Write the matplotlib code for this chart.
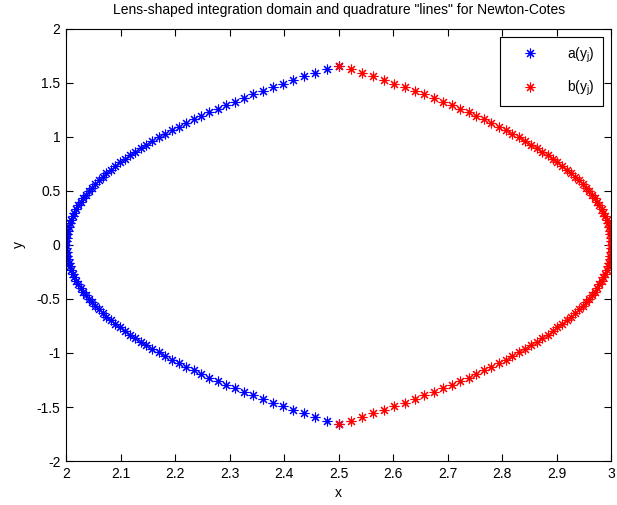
import matplotlib
matplotlib.use("Agg")
import matplotlib.pyplot as plt

plt.rcParams['font.family'] = ['Liberation Sans', 'DejaVu Sans']

# quadrature nodes y_j and the two boundary curves a(y_j), b(y_j)
y_vals = [-1.658, -1.625, -1.592, -1.559, -1.526, -1.492, -1.459, -1.426, -1.393, -1.360,
          -1.327, -1.294, -1.260, -1.227, -1.194, -1.161, -1.128, -1.095, -1.061, -1.028,
          -0.995, -0.962, -0.929, -0.896, -0.862, -0.829, -0.796, -0.763, -0.730, -0.697,
          -0.663, -0.630, -0.597, -0.564, -0.531, -0.498, -0.464, -0.431, -0.398, -0.365,
          -0.332, -0.299, -0.265, -0.232, -0.199, -0.166, -0.133, -0.100, -0.066, -0.033,
          0.000,
          0.033, 0.066, 0.100, 0.133, 0.166, 0.199, 0.232, 0.265, 0.299, 0.332,
          0.365, 0.398, 0.431, 0.464, 0.498, 0.531, 0.564, 0.597, 0.630, 0.663,
          0.697, 0.730, 0.763, 0.796, 0.829, 0.862, 0.896, 0.929, 0.962, 0.995,
          1.028, 1.061, 1.095, 1.128, 1.161, 1.194, 1.227, 1.260, 1.294, 1.327,
          1.360, 1.393, 1.426, 1.459, 1.492, 1.526, 1.559, 1.592, 1.625, 1.658]

a_vals = [2.500, 2.478, 2.457, 2.437, 2.417, 2.398, 2.379, 2.361, 2.343, 2.326,
          2.309, 2.293, 2.278, 2.262, 2.248, 2.234, 2.220, 2.207, 2.194, 2.182,
          2.170, 2.158, 2.147, 2.137, 2.127, 2.117, 2.108, 2.099, 2.090, 2.082,
          2.074, 2.067, 2.060, 2.053, 2.047, 2.042, 2.036, 2.031, 2.027, 2.022,
          2.018, 2.015, 2.012, 2.009, 2.007, 2.005, 2.003, 2.002, 2.001, 2.000,
          2.000,
          2.000, 2.001, 2.002, 2.003, 2.005, 2.007, 2.009, 2.012, 2.015, 2.018,
          2.022, 2.027, 2.031, 2.036, 2.042, 2.047, 2.053, 2.060, 2.067, 2.074,
          2.082, 2.090, 2.099, 2.108, 2.117, 2.127, 2.137, 2.147, 2.158, 2.170,
          2.182, 2.194, 2.207, 2.220, 2.234, 2.248, 2.262, 2.278, 2.293, 2.309,
          2.326, 2.343, 2.361, 2.379, 2.398, 2.417, 2.437, 2.457, 2.478, 2.500]

b_vals = [2.500, 2.522, 2.543, 2.563, 2.583, 2.602, 2.621, 2.639, 2.657, 2.674,
          2.691, 2.707, 2.722, 2.738, 2.752, 2.766, 2.780, 2.793, 2.806, 2.818,
          2.830, 2.842, 2.853, 2.863, 2.873, 2.883, 2.892, 2.901, 2.910, 2.918,
          2.926, 2.933, 2.940, 2.947, 2.953, 2.958, 2.964, 2.969, 2.973, 2.978,
          2.982, 2.985, 2.988, 2.991, 2.993, 2.995, 2.997, 2.998, 2.999, 3.000,
          3.000,
          3.000, 2.999, 2.998, 2.997, 2.995, 2.993, 2.991, 2.988, 2.985, 2.982,
          2.978, 2.973, 2.969, 2.964, 2.958, 2.953, 2.947, 2.940, 2.933, 2.926,
          2.918, 2.910, 2.901, 2.892, 2.883, 2.873, 2.863, 2.853, 2.842, 2.830,
          2.818, 2.806, 2.793, 2.780, 2.766, 2.752, 2.738, 2.722, 2.707, 2.691,
          2.674, 2.657, 2.639, 2.621, 2.602, 2.583, 2.563, 2.543, 2.522, 2.500]

x_ticks = [2, 2.1, 2.2, 2.3, 2.4, 2.5, 2.6, 2.7, 2.8, 2.9, 3]
y_ticks = [-2, -1.5, -1, -0.5, 0, 0.5, 1, 1.5, 2]

fig = plt.figure(figsize=(6.17, 5.05), dpi=100)
ax = fig.add_axes([0.107, 0.087, 0.884, 0.856])

star = (8, 2, 0)
ax.plot(a_vals, y_vals, linestyle='none', marker=star, markersize=7, markeredgewidth=0.8,
        color='#0000ff', label='a(y$_\\mathregular{j}$)')
ax.plot(b_vals, y_vals, linestyle='none', marker=star, markersize=7, markeredgewidth=0.8,
        color='#ff0000', label='b(y$_\\mathregular{j}$)')

ax.set_xlim(2, 3)
ax.set_ylim(-2, 2)
ax.set_xticks(x_ticks)
ax.set_xticklabels(['2', '2.1', '2.2', '2.3', '2.4', '2.5', '2.6', '2.7', '2.8', '2.9', '3'])
ax.set_yticks(y_ticks)
ax.set_yticklabels(['-2', '-1.5', '-1', '-0.5', '0', '0.5', '1', '1.5', '2'])
ax.tick_params(direction='in', top=True, right=True, length=5, width=0.8, labelsize=10, pad=4)
for sp in ax.spines.values():
    sp.set_linewidth(0.8)

ax.set_xlabel('x', fontsize=10, labelpad=4)
ax.set_ylabel('y', fontsize=10, labelpad=8)
ax.set_title('Lens-shaped integration domain and quadrature "lines" for Newton-Cotes',
             fontsize=10, pad=11)

leg = ax.legend(loc='upper right', fontsize=10, fancybox=False, edgecolor='black',
                framealpha=1, handlelength=3.0, handletextpad=1.2, borderpad=0.6,
                labelspacing=1.0, borderaxespad=0.6)
leg.get_frame().set_linewidth(0.8)

fig.savefig('out.png', dpi=100)
